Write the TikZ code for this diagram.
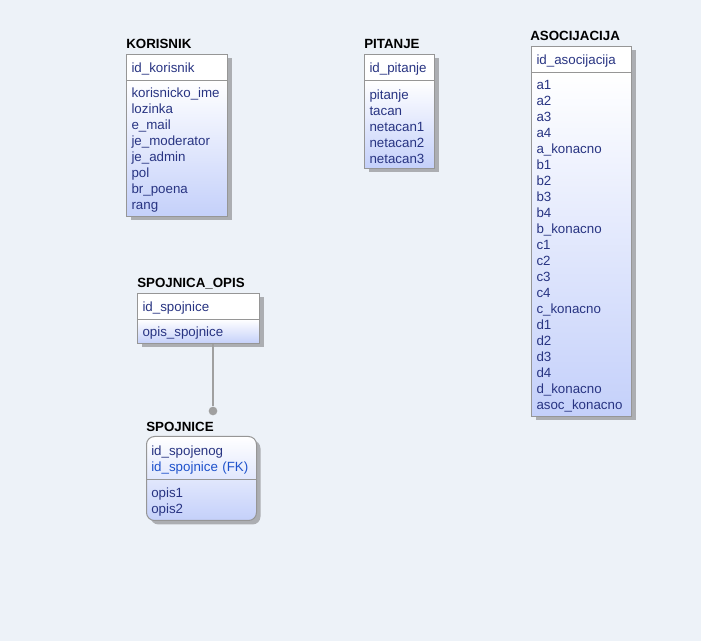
\documentclass[tikz,border=0pt]{standalone}
\usepackage{fontspec}
\setmainfont{Liberation Sans}
\usetikzlibrary{positioning,shadows}

\definecolor{canvas}{RGB}{237,242,248}
\definecolor{tblborder}{RGB}{150,150,150}
\definecolor{tblshadow}{RGB}{172,174,178}
\definecolor{tbltext}{RGB}{40,52,130}
\definecolor{tblfk}{RGB}{30,82,204}
\definecolor{tblblue}{RGB}{196,208,250}
\definecolor{tbllink}{RGB}{160,160,160}

\tikzset{
	tblshade/.style={drop shadow={shadow xshift=3pt, shadow yshift=-3pt, fill=tblshadow, opacity=1}},
	tbltitle/.style={anchor=base west, inner sep=0pt, font=\bfseries\fontsize{10}{12}\selectfont},
	tbltext/.style={anchor=north west, inner xsep=3.75pt, inner ysep=0pt, align=left, text=tbltext, font=\fontsize{10}{12}\selectfont, execute at begin node={\rule{0pt}{10pt}}},
	tblhead/.style={tbltext, tblshade, draw=tblborder, line width=0.75pt, fill=white, minimum height=19.5pt},
	tblbody/.style={tblhead, top color=white, bottom color=tblblue},
	tblround/.style={tblshade, draw=tblborder, line width=0.75pt, rounded corners=6pt, anchor=north west, top color=white, bottom color=tblblue},
	tblsep/.style={draw=tblborder, line width=0.75pt},
	link/.style={draw=tbllink, line width=1.1pt},
	linkdot/.style={circle, fill=tbllink, inner sep=0pt, minimum size=6.5pt},
}

\begin{document}
\begin{tikzpicture}[x=0.75pt, y=-0.75pt]
	\fill[canvas] (0, 0) rectangle (701, 641);
	\useasboundingbox (0, 0) rectangle (701, 641);
	
	% KORISNIK
	\node[tbltitle] (korisniktitle) at (126, 48.5) {KORISNIK};
	\node[tblhead, text width=68.25pt] (korisnikhead) at (126, 54) {id\_korisnik};
	\node[tblbody, text width=68.25pt, minimum height=102pt] (korisnikbody) at ([yshift=0.75pt]korisnikhead.south west) {korisnicko\_ime\\lozinka\\e\_mail\\je\_moderator\\je\_admin\\pol\\br\_poena\\rang};
	
	% PITANJE
	\node[tbltitle] (pitanjetitle) at (364, 48.5) {PITANJE};
	\node[tblhead, text width=45pt] (pitanjehead) at (364, 54) {id\_pitanje};
	\node[tblbody, text width=45pt, minimum height=66pt] (pitanjebody) at ([yshift=0.75pt]pitanjehead.south west) {pitanje\\tacan\\netacan1\\netacan2\\netacan3};
	
	% ASOCIJACIJA
	\node[tbltitle] (asoctitle) at (530, 40.5) {ASOCIJACIJA};
	\node[tblhead, text width=67.5pt] (asochead) at (531, 46) {id\_asocijacija};
	\node[tblbody, text width=67.5pt, minimum height=258pt] (asocbody) at ([yshift=0.75pt]asochead.south west) {a1\\a2\\a3\\a4\\a\_konacno\\b1\\b2\\b3\\b4\\b\_konacno\\c1\\c2\\c3\\c4\\c\_konacno\\d1\\d2\\d3\\d4\\d\_konacno\\asoc\_konacno};
	
	% SPOJNICA_OPIS
	\node[tbltitle] (opistitle) at (137, 287.5) {SPOJNICA\_OPIS};
	\node[tblhead, text width=84pt] (opishead) at (137, 293) {id\_spojnice};
	\node[tblbody, text width=84pt, minimum height=18pt] (opisbody) at ([yshift=0.75pt]opishead.south west) {opis\_spojnice};
	
	% SPOJNICE
	\node[tbltitle] (spojnicetitle) at (146, 431.5) {SPOJNICE};
	\node[tblround, minimum width=82.5pt, minimum height=63pt] (spojnicebox) at (146, 436) {};
	\node[tbltext, text width=75pt, minimum height=32.25pt] (spojnicekey) at (spojnicebox.north west) {id\_spojenog\\\textcolor{tblfk}{id\_spojnice (FK)}};
	\draw[tblsep] (spojnicekey.south west) -- (spojnicekey.south east);
	\node[tbltext, text width=75pt, minimum height=30.75pt] (spojniceattr) at (spojnicekey.south west) {opis1\\opis2};
	
	% veza
	\node[linkdot] (opisdot) at (213, 411) {};
	\draw[link] (opisdot |- opisbody.south) -- (opisdot);
\end{tikzpicture}
\end{document}
